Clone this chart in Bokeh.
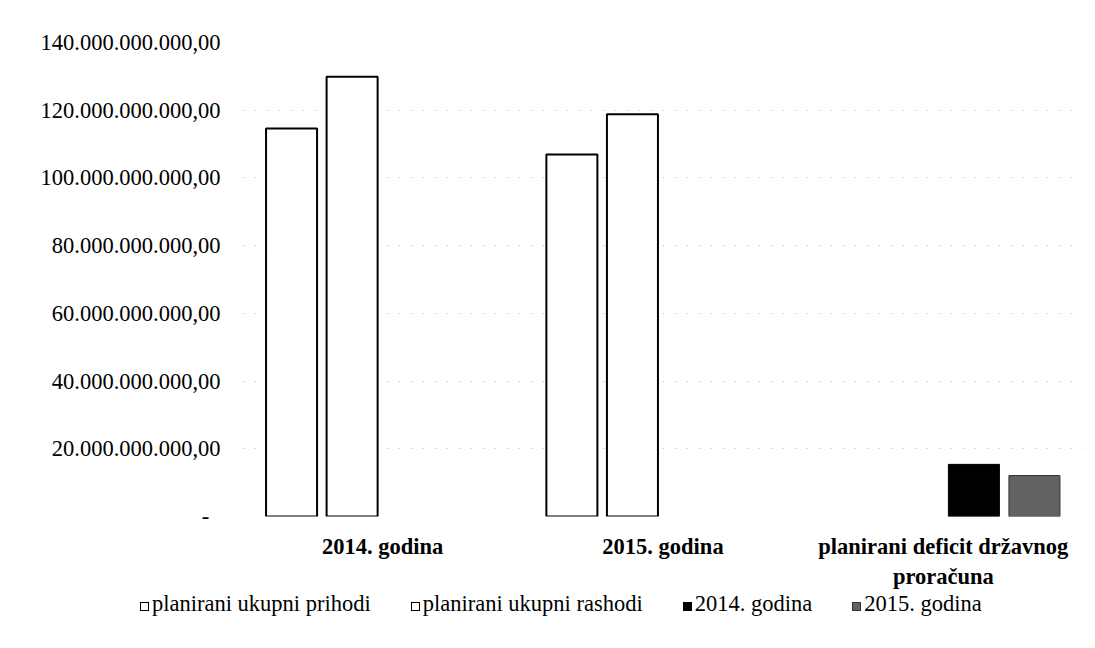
from bokeh.plotting import figure
from bokeh.layouts import column
from bokeh.models import (ColumnDataSource, FactorRange, Range1d, FixedTicker,
                          CustomJSTickFormatter, Div)
from bokeh.transform import dodge
from bokeh.embed import file_html
from bokeh.resources import INLINE

nan = float("nan")
categories = ["2014. godina", "2015. godina", "planirani deficit državnog\nproračuna"]
prihodi = [114.6e9, 106.9e9, nan]
rashodi = [129.9e9, 118.8e9, nan]
deficit_2014 = [nan, nan, 15.4e9]
deficit_2015 = [nan, nan, 12.1e9]
series_names = ["planirani ukupni prihodi", "planirani ukupni rashodi", "2014. godina", "2015. godina"]
series_cols = ["prihodi", "rashodi", "d14", "d15"]
y_ticks = [0, 20e9, 40e9, 60e9, 80e9, 100e9, 120e9, 140e9]

src = ColumnDataSource(dict(cat=categories, prihodi=prihodi, rashodi=rashodi,
                            d14=deficit_2014, d15=deficit_2015))

FONT = "Liberation Serif"
offsets = [-0.325, -0.109, 0.109, 0.325]
styles = [dict(fill_color="white", line_color="black", line_width=2),
          dict(fill_color="white", line_color="black", line_width=2),
          dict(fill_color="black", line_color="black", line_width=1),
          dict(fill_color="#626262", line_color="#333333", line_width=1)]

p = figure(x_range=FactorRange(*categories), y_range=Range1d(0, 140e9),
           frame_width=841, frame_height=474, output_backend="svg", toolbar_location=None,
           min_border_left=242, min_border_right=4, min_border_top=42,
           min_border_bottom=0)
p.outline_line_color = None
p.background_fill_color = "white"
p.border_fill_color = "white"

w = 0.182
for col, off, st in zip(series_cols, offsets, styles):
    p.vbar(x=dodge("cat", off, range=p.x_range), top=col, width=w, source=src, **st)

p.yaxis.ticker = FixedTicker(ticks=y_ticks)
p.yaxis.formatter = CustomJSTickFormatter(code="""
if (tick == 0) { return "-\\u00a0\\u00a0"; }
var s = Math.round(tick).toString().replace(/\\B(?=(\\d{3})+(?!\\d))/g, ".");
return s + ",00";
""")
for ax in (p.xaxis[0], p.yaxis[0]):
    ax.axis_line_color = None
    ax.major_tick_line_color = None
    ax.minor_tick_line_color = None
    ax.major_tick_out = 0
    ax.major_tick_in = 0
    ax.minor_tick_out = 0
    ax.minor_tick_in = 0
    ax.major_label_text_font = FONT
    ax.major_label_text_font_size = "22.5px"
    ax.major_label_text_color = "black"
p.yaxis.major_label_standoff = 22
p.xaxis.major_label_text_font_style = "bold"
p.xaxis.major_label_standoff = 17

p.xgrid.grid_line_color = None
p.ygrid.grid_line_color = "#cfcfcf"
p.ygrid.grid_line_dash = "2 10"
p.ygrid.grid_line_width = 1

# legend strip below the chart
items_html = []
for name, st in zip(series_names, styles):
    box = ("display:inline-block;width:9px;height:9px;margin-right:3px;"
           f"background:{st['fill_color']};border:1px solid {st['line_color']};")
    items_html.append(f'<span style="margin-right:40px;white-space:nowrap;">'
                      f'<span style="{box}"></span>{name}</span>')
legend_div = Div(text=(f'<div style="font-family:\'{FONT}\';font-size:22.5px;color:black;'
                       f'line-height:26px;padding-left:140px;white-space:nowrap;">'
                       + "".join(items_html) + "</div>"),
                 width=1087, height=40, margin=(0, 0, 0, 0))

layout = column(p, legend_div, spacing=0)
open("out.html", "w").write(file_html(layout, INLINE))
